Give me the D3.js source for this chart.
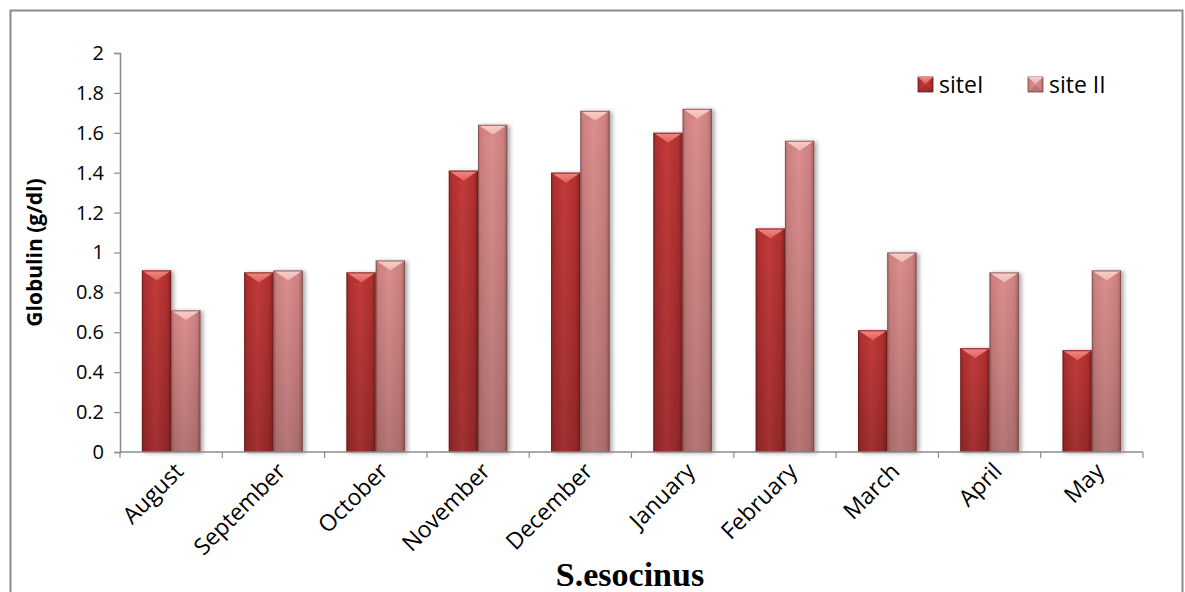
<!DOCTYPE html>
<html>
<head>
<meta charset="utf-8">
<script src="https://cdn.jsdelivr.net/npm/d3@7"></script>
<style>
  html, body { margin: 0; padding: 0; background: #fff; }
  svg { display: block; }
  text { font-family: "Open Sans", "DejaVu Sans", sans-serif; fill: #000; }
</style>
</head>
<body>
<svg id="chart" width="1185" height="592"></svg>
<script>
// Monthly globulin values for the two sampling sites
const months = ["August", "September", "October", "November", "December",
                "January", "February", "March", "April", "May"];
const siteI  = [0.91, 0.90, 0.90, 1.41, 1.40, 1.60, 1.12, 0.61, 0.52, 0.51];
const siteII = [0.71, 0.91, 0.96, 1.64, 1.71, 1.72, 1.56, 1.00, 0.90, 0.91];
const seriesNames = ["siteI", "site II"];
const yTicks = [0, 0.2, 0.4, 0.6, 0.8, 1, 1.2, 1.4, 1.6, 1.8, 2];

const svg = d3.select("#chart");
const plot = { left: 120, right: 1143, top: 53, bottom: 452 };

// Chart area frame
svg.append("rect")
  .attr("x", 10.5).attr("y", 10.5)
  .attr("width", 1172).attr("height", 600)
  .attr("fill", "#fff").attr("stroke", "#8c8c8c").attr("stroke-width", 2);

// Colour schemes per series
const palette = {
  "siteI":   { edge: "#9c2a2a", mid: "#c43b3b", edge2: "#8a2222", top: "#e0605a", topHi: "#ef8a82", side: "#b03030", stroke: "#6a1c1c" },
  "site II": { edge: "#b77171", mid: "#dc8f8f", edge2: "#a86464", top: "#f0b3b0", topHi: "#f8d0cc", side: "#cf8282", stroke: "#7a4a4a" }
};

const defs = svg.append("defs");
seriesNames.forEach((s, i) => {
  const p = palette[s];
  const g = defs.append("linearGradient").attr("id", "body" + i)
    .attr("x1", "0").attr("x2", "1").attr("y1", "0").attr("y2", "0");
  g.append("stop").attr("offset", "0").attr("stop-color", p.edge);
  g.append("stop").attr("offset", "0.12").attr("stop-color", p.side);
  g.append("stop").attr("offset", "0.45").attr("stop-color", p.mid);
  g.append("stop").attr("offset", "0.85").attr("stop-color", p.side);
  g.append("stop").attr("offset", "1").attr("stop-color", p.edge2);
  const t = defs.append("linearGradient").attr("id", "top" + i)
    .attr("x1", "0").attr("x2", "0").attr("y1", "0").attr("y2", "1");
  t.append("stop").attr("offset", "0").attr("stop-color", p.topHi);
  t.append("stop").attr("offset", "1").attr("stop-color", p.top);
});
// darkening toward the base of each bar
const shade = defs.append("linearGradient").attr("id", "shade")
  .attr("x1", "0").attr("x2", "0").attr("y1", "0").attr("y2", "1");
shade.append("stop").attr("offset", "0").attr("stop-color", "#000").attr("stop-opacity", 0);
shade.append("stop").attr("offset", "1").attr("stop-color", "#000").attr("stop-opacity", 0.18);

const shadow = defs.append("filter").attr("id", "barShadow")
  .attr("x", "-20%").attr("y", "-5%").attr("width", "150%").attr("height", "115%");
shadow.append("feDropShadow").attr("dx", 2.5).attr("dy", 1).attr("stdDeviation", 2)
  .attr("flood-color", "#000").attr("flood-opacity", 0.35);

// Scales (gap between clusters is 1.5 bar widths)
const x0 = d3.scaleBand().domain(months).range([plot.left, plot.right]).padding(0);
const bw = x0.bandwidth();
const gap = bw * 1.5 / 3.5 / 2;
const x1 = d3.scaleBand().domain(seriesNames).range([gap, bw - gap]).padding(0);
const y = d3.scaleLinear().domain([0, 2]).range([plot.bottom, plot.top]);

// Bars
const rows = months.map((m, i) => ({ month: m, vals: [siteI[i], siteII[i]] }));
const groups = svg.append("g").selectAll("g").data(rows).join("g")
  .attr("transform", d => `translate(${x0(d.month)},0)`);

function drawBar(sel, si) {
  sel.each(function(d) {
    const v = d.vals[si];
    const g = d3.select(this).append("g").attr("filter", "url(#barShadow)");
    const xa = x1(seriesNames[si]), w = x1.bandwidth();
    const top = y(v), base = y(0), h = base - top;
    const bev = Math.min(10, h / 2);
    g.append("rect").attr("x", xa).attr("y", top).attr("width", w).attr("height", h)
      .attr("fill", `url(#body${si})`);
    g.append("rect").attr("x", xa).attr("y", top).attr("width", w).attr("height", h)
      .attr("fill", "url(#shade)");
    // bevelled top edge
    g.append("path")
      .attr("d", `M${xa},${top} L${xa + w},${top} L${xa + w / 2},${top + bev} Z`)
      .attr("fill", `url(#top${si})`);
    g.append("path")
      .attr("d", `M${xa},${top} L${xa + w / 2},${top + bev} L${xa + 3},${top + bev} L${xa},${top + 2} Z`)
      .attr("fill", palette[seriesNames[si]].side).attr("opacity", 0.6);
    g.append("rect").attr("x", xa + 0.5).attr("y", top + 0.5).attr("width", w - 1).attr("height", h - 1)
      .attr("fill", "none").attr("stroke", palette[seriesNames[si]].stroke).attr("stroke-width", 1)
      .attr("stroke-opacity", 0.8);
  });
}
drawBar(groups, 0);
drawBar(groups, 1);

// Y axis
const yAxis = svg.append("g").attr("transform", `translate(${plot.left},0)`)
  .call(d3.axisLeft(y).tickValues(yTicks).tickFormat(d3.format("~g")).tickSize(6).tickPadding(10));
yAxis.select(".domain").attr("stroke", "#8c8c8c").attr("stroke-width", 1.5);
yAxis.selectAll(".tick line").attr("stroke", "#8c8c8c").attr("stroke-width", 1.2);
yAxis.selectAll(".tick text").style("font-size", "20px").attr("fill", "#000");

// X axis with ticks at category boundaries
const xAxisG = svg.append("g");
xAxisG.append("line")
  .attr("x1", plot.left).attr("x2", plot.right)
  .attr("y1", plot.bottom).attr("y2", plot.bottom)
  .attr("stroke", "#8c8c8c").attr("stroke-width", 1.5);
const bounds = months.map(m => x0(m)).concat([plot.right]);
xAxisG.selectAll("line.tk").data(bounds).join("line").attr("class", "tk")
  .attr("x1", d => d).attr("x2", d => d)
  .attr("y1", plot.bottom).attr("y2", plot.bottom + 6)
  .attr("stroke", "#8c8c8c").attr("stroke-width", 1.2);
xAxisG.selectAll("text").data(months).join("text")
  .attr("transform", d => `translate(${x0(d) + bw / 2 + 2},${plot.bottom + 9}) rotate(-45)`)
  .attr("text-anchor", "end").attr("dy", "0.72em")
  .style("font-size", "23px")
  .text(d => d);

// Y axis title
svg.append("text")
  .attr("transform", `translate(42,${(plot.top + plot.bottom) / 2}) rotate(-90)`)
  .attr("text-anchor", "middle")
  .style("font-size", "21px").style("font-weight", "bold")
  .text("Globulin (g/dl)");

// Species title below the axis
svg.append("text")
  .attr("x", 630).attr("y", 586)
  .attr("text-anchor", "middle")
  .style("font-family", "'Liberation Serif', 'Times New Roman', serif")
  .style("font-size", "34px").style("font-weight", "bold")
  .text("S.esocinus");

// Legend
const legend = svg.append("g").attr("transform", "translate(918,77)");
const lItems = legend.selectAll("g").data(seriesNames).join("g")
  .attr("transform", (d, i) => `translate(${i * 110},0)`);
lItems.append("rect").attr("width", 15).attr("height", 15)
  .attr("fill", (d, i) => `url(#body${i})`)
  .attr("stroke", d => palette[d].stroke).attr("stroke-width", 0.8);
lItems.append("path").attr("d", "M0,0 L15,0 L7.5,7 Z")
  .attr("fill", (d, i) => `url(#top${i})`);
lItems.append("path").attr("d", "M0,15 L15,15 L7.5,8 Z")
  .attr("fill", "#000").attr("opacity", 0.15);
lItems.append("text").attr("x", 21).attr("y", 7.5).attr("dy", "0.36em")
  .style("font-size", "23px")
  .text(d => d);
</script>
</body>
</html>
